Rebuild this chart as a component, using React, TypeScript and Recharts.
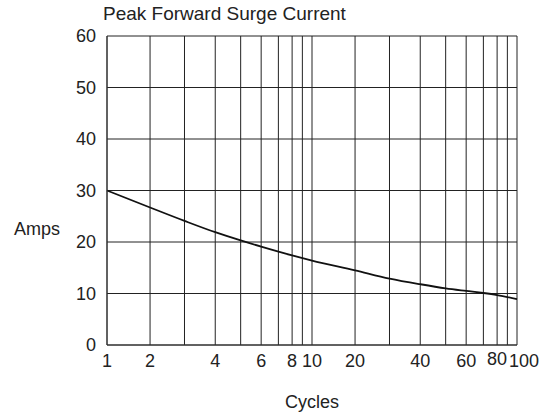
import { LineChart, Line, XAxis, YAxis, CartesianGrid } from "recharts";

// Peak forward surge current vs number of cycles
const cycles = [1, 2, 3, 4, 5, 6, 8, 10, 20, 30, 40, 50, 60, 70, 80, 100];
const amps = [30, 26.7, 24.1, 21.9, 20.3, 19.1, 17.4, 16.4, 14.5, 12.9, 11.8, 11.0, 10.5, 10.1, 9.7, 8.9];

const gridCycles = [1, 2, 3, 4, 5, 6, 7, 8, 9, 10, 20, 30, 40, 50, 60, 70, 80, 90, 100];
const labelCycles = [1, 2, 4, 6, 8, 10, 20, 40, 60, 80, 100];
const ampTicks = [0, 10, 20, 30, 40, 50, 60];

// where 1..10 sit inside one decade on the printed log paper (it is not a true log10 ruling)
const decadeStops = [0, 0.21, 0.378, 0.528, 0.652, 0.752, 0.836, 0.903, 0.953, 1];

const warp = (c: number) => {
  const d = Math.floor(Math.log10(c) + 1e-9);
  const m = c / Math.pow(10, d);
  const i = Math.min(Math.floor(m + 1e-9), 9);
  const f = m - i;
  return d + decadeStops[i - 1] + f * (decadeStops[i] - decadeStops[i - 1]);
};

const data = cycles.map((c, i) => ({ x: warp(c), amps: amps[i] }));
const gridTicks = gridCycles.map(warp);

const labelFor = (v: number) => {
  const c = gridCycles.find((g) => Math.abs(warp(g) - v) < 1e-6);
  return c !== undefined && labelCycles.includes(c) ? String(c) : "";
};

const font = "'Liberation Sans', Arial, sans-serif";
const ink = "#222";

const CycleTick = ({ x, y, payload }: any) => {
  const label = labelFor(payload.value);
  if (!label) return null;
  // the last label sits a little right of its line in the original, clear of "80"
  const shift = label === "100" ? 7 : 0;
  const lift = label === "80" ? -2 : 0;
  return (
    <text x={x + shift} y={y + lift} dy="0.71em" textAnchor="middle" fill={ink} fontSize={18} fontFamily={font}>
      {label}
    </text>
  );
};

const App = () => {
  return (
    <div style={{ position: "absolute", left: 0, top: 0, width: 547, height: 415, background: "#fff", fontFamily: font }}>
      <div style={{ position: "absolute", left: 103, top: 3, fontSize: 19, lineHeight: "22px", color: ink, whiteSpace: "nowrap" }}>
        Peak Forward Surge Current
      </div>
      <div style={{ position: "absolute", left: 14, top: 219, fontSize: 18, lineHeight: "20px", color: ink }}>
        Amps
      </div>
      <div style={{ position: "absolute", left: 262, top: 392, width: 100, textAlign: "center", fontSize: 18, lineHeight: "20px", color: ink }}>
        Cycles
      </div>
      <LineChart width={547} height={415} data={data} margin={{ top: 36, right: 30, bottom: 40, left: 47 }}>
        <CartesianGrid stroke="#222" strokeWidth={1} />
        <XAxis
          dataKey="x"
          type="number"
          domain={[0, 2]}
          ticks={gridTicks}
          interval={0}
          tickLine={false}
          tickSize={0}
          tickMargin={9}
          height={30}
          axisLine={{ stroke: "#333" }}
          tick={<CycleTick />}
        />
        <YAxis
          type="number"
          domain={[0, 60]}
          ticks={ampTicks}
          interval={0}
          width={60}
          tickLine={false}
          tickSize={0}
          tickMargin={11}
          axisLine={{ stroke: "#333" }}
          tick={{ fill: ink, fontSize: 18, fontFamily: font }}
        />
        <Line
          type="monotone"
          dataKey="amps"
          stroke="#111"
          strokeWidth={1.8}
          dot={false}
          isAnimationActive={false}
        />
      </LineChart>
    </div>
  );
};

export default App;
